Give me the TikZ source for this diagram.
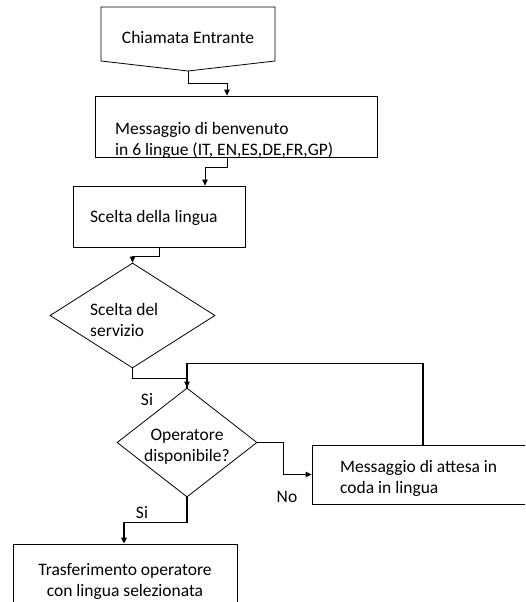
\documentclass[tikz,border=0pt]{standalone}
\usepackage{fontspec}
\setmainfont{Carlito}
\usetikzlibrary{shapes.geometric, arrows.meta, positioning}

\begin{document}
\begin{tikzpicture}[x=1pt, y=-1pt,
    every node/.style={font=\fontsize{17.5pt}{21pt}\selectfont},
    box/.style={draw, rectangle, line width=0.8pt, inner sep=0pt},
    choice/.style={draw, diamond, line width=0.8pt, inner sep=0pt},
    txt/.style={inner sep=0pt},
    link/.style={-{Triangle[length=6pt, width=5.5pt]}, line width=0.8pt},
    biglink/.style={link, line width=1.8pt}]
\useasboundingbox (0,0) rectangle (525,602);
\clip (0,0) rectangle (525,602);

% incoming call (off-page shape)
\coordinate (starttip) at (188,71);
\draw[line width=0.8pt] (101,7) -- (275,7) -- (275,61) -- (starttip) -- (101,61) -- cycle;
\node[txt] (start) at (188,37) {Chiamata Entrante};

% boxes and decisions
\node[box, minimum width=282pt, minimum height=61pt] (welcome) at (236,126.5) {};
\node[txt, align=left, anchor=west] (welcometxt) at (115,140) {Messaggio di benvenuto\\in 6 lingue (IT, EN,ES,DE,FR,GP)};

\node[box, minimum width=172pt, minimum height=61pt] (lang) at (159,216.5) {};
\node[txt, anchor=west] (langtxt) at (90,218) {Scelta della lingua};

\node[choice, minimum width=165pt, minimum height=105pt] (service) at (132.5,315.5) {};
\node[txt, align=left, anchor=west] (servicetxt) at (90,320) {Scelta del\\servizio};

\node[choice, minimum width=140pt, minimum height=109pt] (operator) at (187,442.5) {};
\node[txt, align=center] (operatortxt) at (187,447) {Operatore\\disponibile?};

\node[box, minimum width=218pt, minimum height=59pt] (queue) at (421,474.5) {};
\node[txt, align=left, anchor=west] (queuetxt) at (340,478) {Messaggio di attesa in\\coda in lingua};

\node[box, minimum width=224pt, minimum height=72pt] (transfer) at (125,580) {};
\node[txt, align=center] (transfertxt) at (125,581) {Trasferimento operatore\\con lingua selezionata};

% branch labels
\node[txt] (si1) at (147,400) {Si};
\node[txt] (no) at (287,497) {No};
\node[txt] (si2) at (142,513) {Si};

% connectors
\draw[link] (starttip) -- ++(0,12) -| ([xshift=-9pt]welcome.north);
\draw[link] ([xshift=-9pt]welcome.south) -- ++(0,10) -| ([xshift=46pt]lang.north);
\draw[link] (lang.south) -- ++(0,9) -| (service.north);
\draw[line width=1.5pt] ([xshift=2pt]queue.north) -- ++(0,-81) -| (operator.north);
\draw[link] (service.south) -- ++(0,10) -| (operator.north);
\draw[link] (operator.east) -- ++(26,0) |- (queue.west);
\draw[biglink] (operator.south) -- ++(0,25) -| ([xshift=-1pt]transfer.north);
\end{tikzpicture}
\end{document}
